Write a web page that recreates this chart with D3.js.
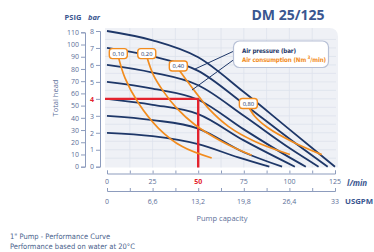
<!DOCTYPE html>
<html>
<head>
<meta charset="utf-8">
<script src="https://cdn.jsdelivr.net/npm/d3@7"></script>
<style>
body { margin: 0; background: #fff; }
svg { display: block; }
text { font-family: "Open Sans", "DejaVu Sans", sans-serif; }
.narrow { font-family: "Liberation Sans Narrow", "DejaVu Sans Condensed", sans-serif; }
</style>
</head>
<body>
<div id="chart"></div>
<script>
// axis ticks
const flowTicks = [0, 25, 50, 75, 100, 125];
const usgpmTicks = [0, 6.6, 13.2, 19.8, 26.4, 33];
const usgpmLabels = ["0", "6,6", "13,2", "19,8", "26,4", "33"];
const psigTicks = [0, 10, 20, 30, 40, 50, 60, 70, 80, 90, 100, 110];
const barTicks = [0, 1, 2, 3, 4, 5, 6, 7, 8];

// air pressure lines: [l/min, bar head]
const airPressureBar = [2, 3, 4, 5, 6, 7, 8];
const airPressureCurves = [
  [[0, 2.0], [25, 1.8], [50, 1.33], [72, 0.55], [89, 0]],
  [[0, 3.0], [25, 2.75], [50, 2.25], [75, 0.85], [96, 0]],
  [[0, 4.0], [25, 3.65], [50, 3.1], [75, 1.55], [103, 0]],
  [[0, 5.0], [25, 4.6], [50, 3.95], [75, 2.2], [100, 0.55], [109, 0]],
  [[0, 6.0], [25, 5.55], [50, 4.8], [75, 3.0], [100, 1.1], [116, 0]],
  [[0, 7.0], [25, 6.5], [50, 5.65], [75, 3.7], [100, 1.65], [121, 0]],
  [[0, 8.0], [25, 7.45], [50, 6.45], [75, 4.4], [100, 2.2], [125, 0]]
];

// air consumption curves (Nm3/min)
const airConsumptionLabels = ["0,10", "0,20", "0,40", "0,80"];
const airConsumptionCurves = [
  [[6.2, 6.49], [9.9, 5.22], [17.2, 3.75], [28.1, 2.28], [41.0, 1.2], [57.4, 0.51]],
  [[21.8, 6.49], [25.4, 5.41], [30.9, 4.44], [38.2, 3.45], [48.2, 2.47], [62.9, 1.49], [79.3, 0.67]],
  [[39.1, 5.76], [42.8, 5.22], [48.2, 4.44], [55.5, 3.45], [66.5, 2.38], [81.1, 1.49], [100.3, 0.72]],
  [[77.5, 3.55], [81.1, 2.96], [88.4, 2.28], [101.3, 1.49], [117.7, 0.71]]
];

// duty point
const dutyFlow = 50;
const dutyHead = 4;

const width = 374, height = 252;
const navy = "#1e3768", orange = "#f28c1e", red = "#e3232e", tickCol = "#5d6f98", axisCol = "#8d9cbd";

const x = d3.scaleLinear().domain([0, 125]).range([107, 335]);
const xUs = d3.scaleLinear().domain([0, 33]).range([107, 335]);
const y = d3.scaleLinear().domain([0, 8]).range([166.7, 31]);
const yPsi = d3.scaleLinear().domain([0, 110]).range([166.7, 32.3]);

const svg = d3.select("#chart").append("svg")
  .attr("width", width)
  .attr("height", height);

// plot background with rounded top-right corner
const pLeft = 105, pTop = 28, pRight = 338, pBottom = 167.5, r = 9;
svg.append("path")
  .attr("d", `M${pLeft},${pTop}H${pRight - r}Q${pRight},${pTop} ${pRight},${pTop + r}V${pBottom}H${pLeft}Z`)
  .attr("fill", "#eff1f6");

const grid = svg.append("g").attr("stroke", "#dde2ec").attr("stroke-width", 0.8);
grid.selectAll("line.v")
  .data(d3.range(1, 10).map(i => i * 12.5))
  .enter().append("line")
  .attr("x1", d => x(d)).attr("x2", d => x(d))
  .attr("y1", pTop).attr("y2", pBottom);
grid.selectAll("line.h")
  .data(d3.range(1, 16).map(i => i * 0.5))
  .enter().append("line")
  .attr("x1", pLeft).attr("x2", pRight - 2)
  .attr("y1", d => y(d)).attr("y2", d => y(d));

// left axes
const psigAxis = d3.axisLeft(yPsi).tickValues(psigTicks).tickSize(4).tickPadding(2);
const gPsi = svg.append("g").attr("transform", "translate(85,0)").call(psigAxis);
const barAxis = d3.axisLeft(y).tickValues(barTicks).tickSize(4).tickPadding(2);
const gBar = svg.append("g").attr("transform", "translate(100,0)").call(barAxis);

// bottom axes
const flowAxis = d3.axisTop(x).tickValues(d3.range(0, 11).map(i => i * 12.5)).tickSize(3).tickFormat("");
const gFlow = svg.append("g").attr("transform", "translate(0,173.5)").call(flowAxis);
gFlow.selectAll(".flowLabel")
  .data(flowTicks)
  .enter().append("text")
  .attr("x", d => x(d)).attr("y", 10.5)
  .attr("text-anchor", "middle")
  .attr("fill", d => d === dutyFlow ? red : tickCol)
  .style("font-size", "7px")
  .style("font-weight", d => d === dutyFlow ? "bold" : "normal")
  .text(d => d);

const usAxis = d3.axisTop(xUs).tickValues(d3.range(0, 11).map(i => i * 3.3)).tickSize(3).tickFormat("");
const gUs = svg.append("g").attr("transform", "translate(0,191)").call(usAxis);
gUs.selectAll(".usLabel")
  .data(usgpmTicks)
  .enter().append("text")
  .attr("x", d => xUs(d)).attr("y", 12.5)
  .attr("text-anchor", "middle")
  .attr("fill", tickCol)
  .style("font-size", "7px")
  .text((d, i) => usgpmLabels[i]);

[gPsi, gBar, gFlow, gUs].forEach(g => {
  g.select(".domain").attr("stroke", axisCol);
  g.selectAll(".tick line").attr("stroke", axisCol);
  g.selectAll(".tick text").attr("fill", tickCol).style("font-size", "7px").style("font-family", "'Open Sans', sans-serif");
});
gBar.selectAll(".tick text").filter(d => d === dutyHead).attr("fill", red).style("font-weight", "bold");

// air pressure lines
const line = d3.line().x(d => x(d[0])).y(d => y(d[1])).curve(d3.curveMonotoneX);
svg.append("g").selectAll("path")
  .data(airPressureCurves)
  .enter().append("path")
  .attr("d", line)
  .attr("fill", "none")
  .attr("stroke", navy)
  .attr("stroke-width", 1.8);

// duty point red lines
svg.append("path")
  .attr("d", `M${x(0) - 2},${y(dutyHead)}H${x(dutyFlow)}V${pBottom}`)
  .attr("fill", "none")
  .attr("stroke", red)
  .attr("stroke-width", 2.4);

// air consumption curves
const curve = d3.line().x(d => x(d[0])).y(d => y(d[1])).curve(d3.curveCatmullRom.alpha(0.5));
svg.append("g").selectAll("path")
  .data(airConsumptionCurves)
  .enter().append("path")
  .attr("d", curve)
  .attr("fill", "none")
  .attr("stroke", orange)
  .attr("stroke-width", 1.7);

const tags = svg.append("g").selectAll("g")
  .data(airConsumptionCurves)
  .enter().append("g")
  .attr("transform", d => `translate(${x(d[0][0])},${y(d[0][1]) - 3})`);
tags.append("rect")
  .attr("x", -9).attr("y", -5).attr("width", 18).attr("height", 10).attr("rx", 3)
  .attr("fill", "#fff").attr("stroke", orange).attr("stroke-width", 1.4);
tags.append("text")
  .attr("text-anchor", "middle").attr("y", 2.2)
  .attr("fill", navy)
  .style("font-size", "5.8px")
  .text((d, i) => airConsumptionLabels[i]);

// legend
const lg = svg.append("g");
lg.append("line").attr("x1", 234).attr("y1", 51).attr("x2", 195).attr("y2", 69).attr("stroke", navy).attr("stroke-width", 1);
lg.append("line").attr("x1", 234).attr("y1", 59.5).attr("x2", 192).attr("y2", 90).attr("stroke", navy).attr("stroke-width", 1);
lg.append("rect").attr("x", 233.5).attr("y", 41).attr("width", 95).attr("height", 26.5).attr("rx", 6)
  .attr("fill", "#fff").attr("stroke", "#b7c0d6").attr("stroke-width", 1.2);
lg.append("text").attr("class", "narrow").attr("x", 242).attr("y", 53).attr("fill", navy)
  .style("font-size", "6.2px").style("font-weight", "bold").style("letter-spacing", "-0.12px")
  .text("Air pressure (bar)");
const t2 = lg.append("text").attr("class", "narrow").attr("x", 242).attr("y", 61.5).attr("fill", orange)
  .style("font-size", "6.2px").style("font-weight", "bold").style("letter-spacing", "-0.12px");
t2.append("tspan").text("Air consumption (Nm");
t2.append("tspan").attr("dx", 1.5).attr("dy", -2.3).style("font-size", "4.6px").text("3");
t2.append("tspan").attr("dy", 2.3).text("/min)");

// titles and labels
svg.append("text").attr("x", 288).attr("y", 20).attr("text-anchor", "middle")
  .attr("fill", "#3a5690").style("font-size", "14px").style("font-weight", "bold").text("DM 25/125");
svg.append("text").attr("x", 73).attr("y", 20).attr("text-anchor", "middle")
  .attr("fill", "#3a5690").style("font-size", "7.5px").style("font-weight", "bold").text("PSIG");
svg.append("text").attr("x", 94).attr("y", 20).attr("text-anchor", "middle")
  .attr("fill", "#3a5690").style("font-size", "7.5px").style("font-weight", "bold").style("font-style", "italic").text("bar");
svg.append("text").attr("transform", "translate(58,98) rotate(-90)").attr("text-anchor", "middle")
  .attr("fill", tickCol).style("font-size", "7.5px").text("Total head");
svg.append("text").attr("x", 347).attr("y", 185.5)
  .attr("fill", "#3a5690").style("font-size", "8px").style("font-weight", "bold").style("font-style", "italic").text("l/min");
svg.append("text").attr("x", 345).attr("y", 204)
  .attr("fill", "#3a5690").style("font-size", "7.8px").style("font-weight", "bold").text("USGPM");
svg.append("text").attr("x", 222).attr("y", 221).attr("text-anchor", "middle")
  .attr("fill", tickCol).style("font-size", "7.5px").text("Pump capacity");

svg.append("text").attr("class", "narrow").attr("x", 10).attr("y", 239)
  .attr("fill", "#4a5f8c").style("font-size", "7.5px").text("1\" Pump - Performance Curve");
svg.append("text").attr("class", "narrow").attr("x", 10).attr("y", 249)
  .attr("fill", "#4a5f8c").style("font-size", "7.5px").text("Performance based on water at 20°C");
</script>
</body>
</html>
